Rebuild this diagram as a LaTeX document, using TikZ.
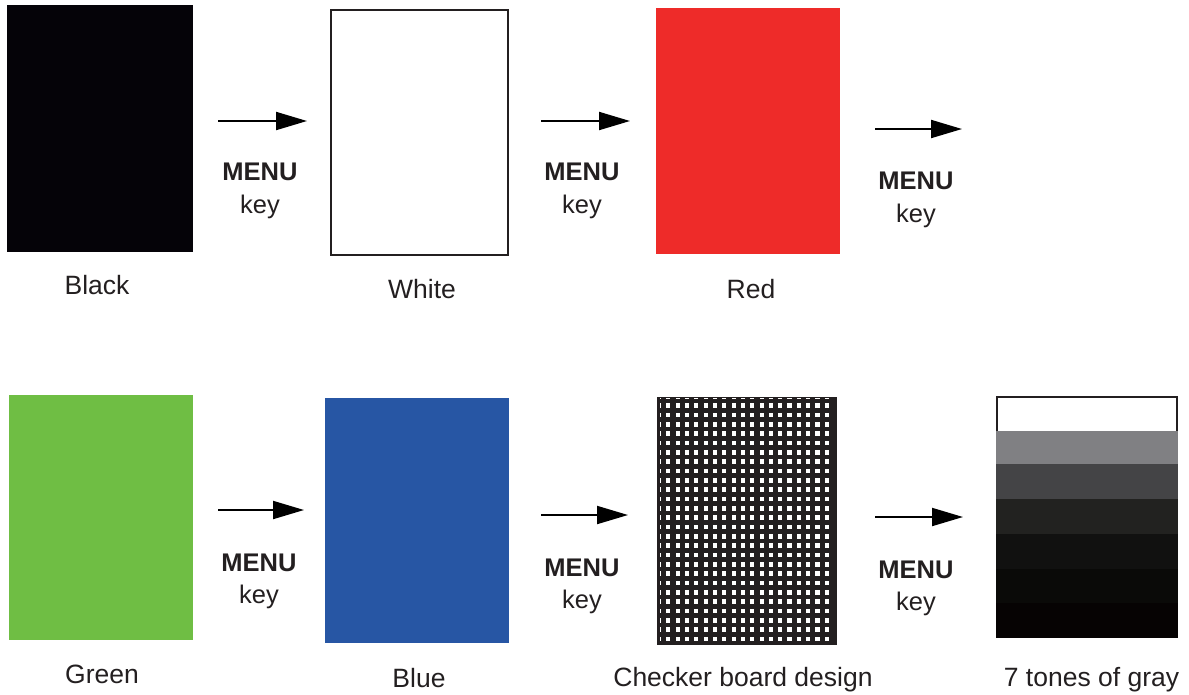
\documentclass[tikz,border=0pt]{standalone}
\usepackage{fontspec}
\setmainfont{Liberation Sans}
\usetikzlibrary{arrows.meta}
\definecolor{cblack}{HTML}{050308}
\definecolor{cred}{HTML}{EE2B29}
\definecolor{cgreen}{HTML}{6FBE44}
\definecolor{cblue}{HTML}{2756A4}
\definecolor{cedge}{HTML}{231F20}
\definecolor{gA}{HTML}{808083}
\definecolor{gB}{HTML}{444446}
\definecolor{gC}{HTML}{222220}
\definecolor{gD}{HTML}{111110}
\definecolor{gE}{HTML}{0A0A08}
\definecolor{gF}{HTML}{060303}
\tikzset{
  panel/.style={draw=none, inner sep=0pt, outer sep=0pt},
  menuarrow/.style={line width=2pt, -{Triangle[length=31pt,width=18pt]}},
  menutext/.style={anchor=base, inner sep=0pt, font=\fontsize{25.5}{28}\selectfont\bfseries, text=cedge},
  keytext/.style={anchor=base, inner sep=0pt, font=\fontsize{25.5}{28}\selectfont, text=cedge},
  lbl/.style={anchor=base, inner sep=0pt, font=\fontsize{26.5}{30}\selectfont, text=cedge},
}
\begin{document}
\begin{tikzpicture}[x=1pt,y=-1pt]
\useasboundingbox (0,0) rectangle (1189,694);
% ---- top row panels
\node[panel, fill=cblack, minimum width=186pt, minimum height=247pt] (black) at (100,128.5) {};
\node[panel, draw=cedge, line width=2pt, fill=white, minimum width=177pt, minimum height=245pt] (white) at (419.5,132.5) {};
\node[panel, fill=cred, minimum width=184pt, minimum height=246pt] (red) at (748,131) {};
% ---- bottom row panels
\node[panel, fill=cgreen, minimum width=184pt, minimum height=245pt] (green) at (101,517.5) {};
\node[panel, fill=cblue, minimum width=184pt, minimum height=245pt] (blue) at (417,520.5) {};
\node[panel, fill=cedge, minimum width=180pt, minimum height=248pt] (checker) at (747,521) {};
\begin{scope}
  \clip (660,398.5) rectangle (833,640.5);
  \foreach \i in {-1,...,17} {
    \foreach \j in {-1,...,25} {
      \fill[white] ({668.3+9.33*\i-2.1},{405.7+9.33*\j-2.3}) rectangle ++(4.2,4.6);
    }
  }
\end{scope}
% gray tones
\node[panel, minimum width=182pt, minimum height=242pt] (gray) at (1087,517) {};
\fill[gA] (996,430.7) rectangle (1178,464);
\fill[gB] (996,464) rectangle (1178,499);
\fill[gC] (996,499) rectangle (1178,534);
\fill[gD] (996,534) rectangle (1178,569);
\fill[gE] (996,569) rectangle (1178,603);
\fill[gF] (996,603) rectangle (1178,638);
\draw[cedge, line width=2pt] (997,430.7) -- (997,397) -- (1177,397) -- (1177,430.7);
% ---- arrows
\coordinate (a1s) at (218,121); \coordinate (a1e) at (307,121);
\coordinate (a2s) at (541,121); \coordinate (a2e) at (630,121);
\coordinate (a3s) at (875,129); \coordinate (a3e) at (962,129);
\coordinate (a4s) at (218,510); \coordinate (a4e) at (304,510);
\coordinate (a5s) at (541,515); \coordinate (a5e) at (628,515);
\coordinate (a6s) at (875,517); \coordinate (a6e) at (963,517);
\draw[menuarrow] (a1s) -- (a1e);
\draw[menuarrow] (a2s) -- (a2e);
\draw[menuarrow] (a3s) -- (a3e);
\draw[menuarrow] (a4s) -- (a4e);
\draw[menuarrow] (a5s) -- (a5e);
\draw[menuarrow] (a6s) -- (a6e);
% ---- MENU key labels
\node[menutext] (m1) at (260,180.5) {MENU};
\node[keytext] (k1) at (260,213) {key};
\node[menutext] (m2) at (582,180.5) {MENU};
\node[keytext] (k2) at (582,213) {key};
\node[menutext] (m3) at (916,189.5) {MENU};
\node[keytext] (k3) at (916,222) {key};
\node[menutext] (m4) at (259,571) {MENU};
\node[keytext] (k4) at (259,603.5) {key};
\node[menutext] (m5) at (582,576) {MENU};
\node[keytext] (k5) at (582,608.5) {key};
\node[menutext] (m6) at (916,578) {MENU};
\node[keytext] (k6) at (916,610.5) {key};
% ---- captions
\node[lbl] (l1) at (97,294) {Black};
\node[lbl] (l2) at (422,298) {White};
\node[lbl] (l3) at (751,298) {Red};
\node[lbl] (l4) at (102,683) {Green};
\node[lbl] (l5) at (419,687) {Blue};
\node[lbl] (l6) at (743,686) {Checker board design};
\node[lbl] (l7) at (1091.5,686) {7 tones of gray};
\end{tikzpicture}
\end{document}
